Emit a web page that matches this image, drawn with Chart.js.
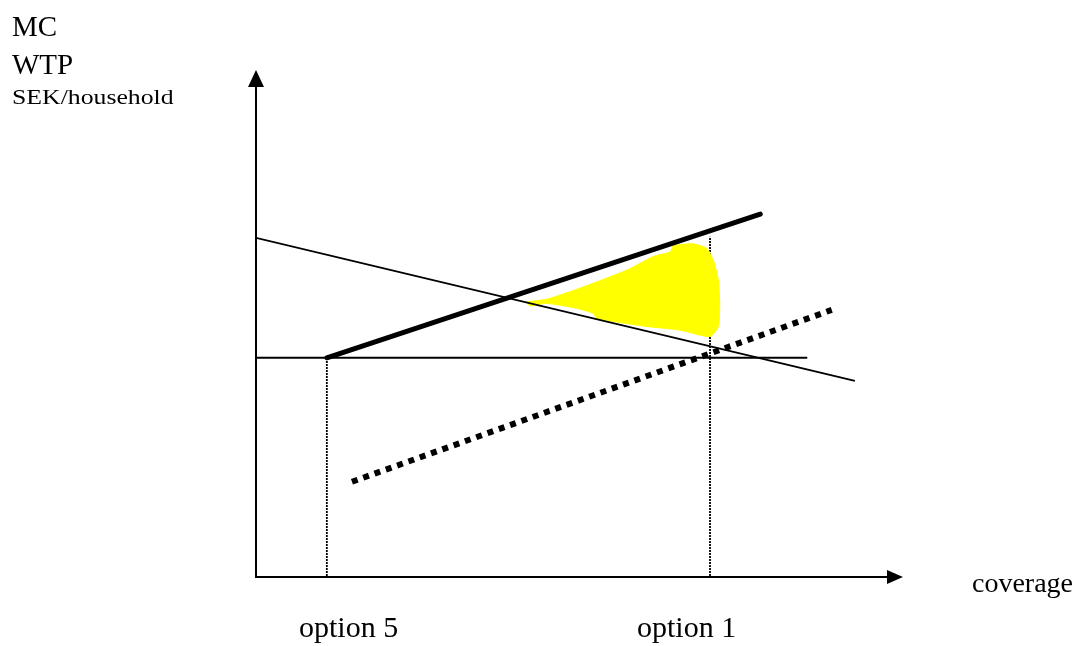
<!DOCTYPE html>
<html>
<head>
<meta charset="utf-8">
<script src="https://cdn.jsdelivr.net/npm/chart.js@4/dist/chart.umd.min.js"></script>
<style>
  body { margin: 0; background: #fff; }
  canvas { display: block; }
</style>
</head>
<body>
<canvas id="chartCoverage" width="1084" height="646"></canvas>
<script>
// option positions on the coverage axis (option 5, option 1)
const optionLabels = ["option 5", "option 1"];
const optionX = [1.10, 7.05];
const optionTopY = [4.33, 6.73];

// MC (thick solid), WTP (thin), alternative MC (dotted)
const mcX = [1.10, 7.83];
const mcY = [4.33, 7.18];
const wtpX = [0, 9.30];
const wtpY = [6.71, 3.87];
const mcAltX = [1.49, 8.94];
const mcAltY = [1.87, 5.28];

// horizontal reference level
const levelX = [0, 8.56];
const levelY = [4.33, 4.33];

// yellow area outline
const areaX = [4.20, 4.51, 5.03, 5.76, 6.17, 6.43, 6.48, 6.79, 7.00, 7.10, 7.18, 7.20,
  7.18, 7.05, 6.58, 6.07, 5.55, 5.29, 5.24, 4.98, 4.51, 4.25, 4.20];
const areaY = [5.44, 5.49, 5.71, 6.07, 6.34, 6.43, 6.55, 6.59, 6.50, 6.27, 5.87, 5.41,
  4.95, 4.75, 4.88, 4.95, 5.05, 5.11, 5.21, 5.31, 5.41, 5.36, 5.44];

const pts = (xs, ys) => xs.map((x, i) => ({ x: x, y: ys[i] }));

const datasets = [
  {
    label: "MC",
    data: pts(mcX, mcY),
    borderColor: "#000",
    borderWidth: 5,
    borderCapStyle: "round",
    order: 1,
  },
  {
    label: "WTP",
    data: pts(wtpX, wtpY),
    borderColor: "#000",
    borderWidth: 1.8,
    order: 2,
  },
  {
    label: "MC alt",
    data: pts(mcAltX, mcAltY),
    borderColor: "#000",
    borderWidth: 6,
    borderDash: [6, 6],
    order: 1,
  },
  {
    label: "level",
    data: pts(levelX, levelY),
    borderColor: "#000",
    borderWidth: 1.8,
    order: 3,
  },
  {
    label: "area",
    data: pts(areaX, areaY),
    borderColor: "#ffff00",
    backgroundColor: "#ffff00",
    borderWidth: 1,
    fill: "shape",
    tension: 0.2,
    order: 10,
  },
];

// dotted drop lines sit under the yellow area
optionX.forEach((x, i) => {
  datasets.push({
    label: optionLabels[i],
    data: [{ x: x, y: 0 }, { x: x, y: optionTopY[i] }],
    borderColor: "#000",
    borderWidth: 1.8,
    borderDash: [2, 1],
    order: 20,
  });
});

const axesAndText = {
  id: "axesAndText",
  afterDraw(chart) {
    const ctx = chart.ctx;
    const xs = chart.scales.x;
    const ys = chart.scales.y;
    const x0 = xs.getPixelForValue(0);
    const y0 = ys.getPixelForValue(0);
    const xEnd = xs.getPixelForValue(10) + 3;
    const yEnd = ys.getPixelForValue(10) - 2;

    ctx.save();
    ctx.strokeStyle = "#000";
    ctx.fillStyle = "#000";
    ctx.lineWidth = 2;
    ctx.beginPath();
    ctx.moveTo(x0, yEnd + 14);
    ctx.lineTo(x0, y0 + 1);
    ctx.lineTo(xEnd - 14, y0 + 1);
    ctx.stroke();

    // arrow heads
    ctx.beginPath();
    ctx.moveTo(x0, yEnd);
    ctx.lineTo(x0 - 8, yEnd + 17);
    ctx.lineTo(x0 + 8, yEnd + 17);
    ctx.closePath();
    ctx.fill();
    ctx.beginPath();
    ctx.moveTo(xEnd, y0 + 1);
    ctx.lineTo(xEnd - 16, y0 - 6);
    ctx.lineTo(xEnd - 16, y0 + 8);
    ctx.closePath();
    ctx.fill();

    ctx.textBaseline = "alphabetic";
    ctx.textAlign = "left";
    ctx.font = '29px "Liberation Serif"';
    ctx.fillText("MC", 12, 36);
    ctx.fillText("WTP", 12, 74);

    ctx.save();
    ctx.font = '22px "Liberation Serif"';
    ctx.translate(12, 104);
    ctx.scale(1.17, 1);
    ctx.fillText("SEK/household", 0, 0);
    ctx.restore();

    ctx.font = '28px "Liberation Serif"';
    ctx.fillText("coverage", 972, 592);
    ctx.font = '30px "Liberation Serif"';
    const optionLeft = [299, 637];
    optionLabels.forEach((t, i) => {
      ctx.fillText(t, optionLeft[i], 637);
    });
    ctx.restore();
  },
};

new Chart(document.getElementById("chartCoverage"), {
  type: "scatter",
  data: { datasets: datasets },
  options: {
    responsive: false,
    animation: false,
    devicePixelRatio: 1,
    showLine: true,
    layout: {
      autoPadding: false,
      padding: { left: 256, right: 184, top: 72, bottom: 70 },
    },
    elements: { point: { radius: 0, hoverRadius: 0 } },
    scales: {
      x: { type: "linear", min: 0, max: 10, display: false },
      y: { type: "linear", min: 0, max: 10, display: false },
    },
    plugins: {
      legend: { display: false },
      tooltip: { enabled: false },
    },
  },
  plugins: [axesAndText],
});
</script>
</body>
</html>
